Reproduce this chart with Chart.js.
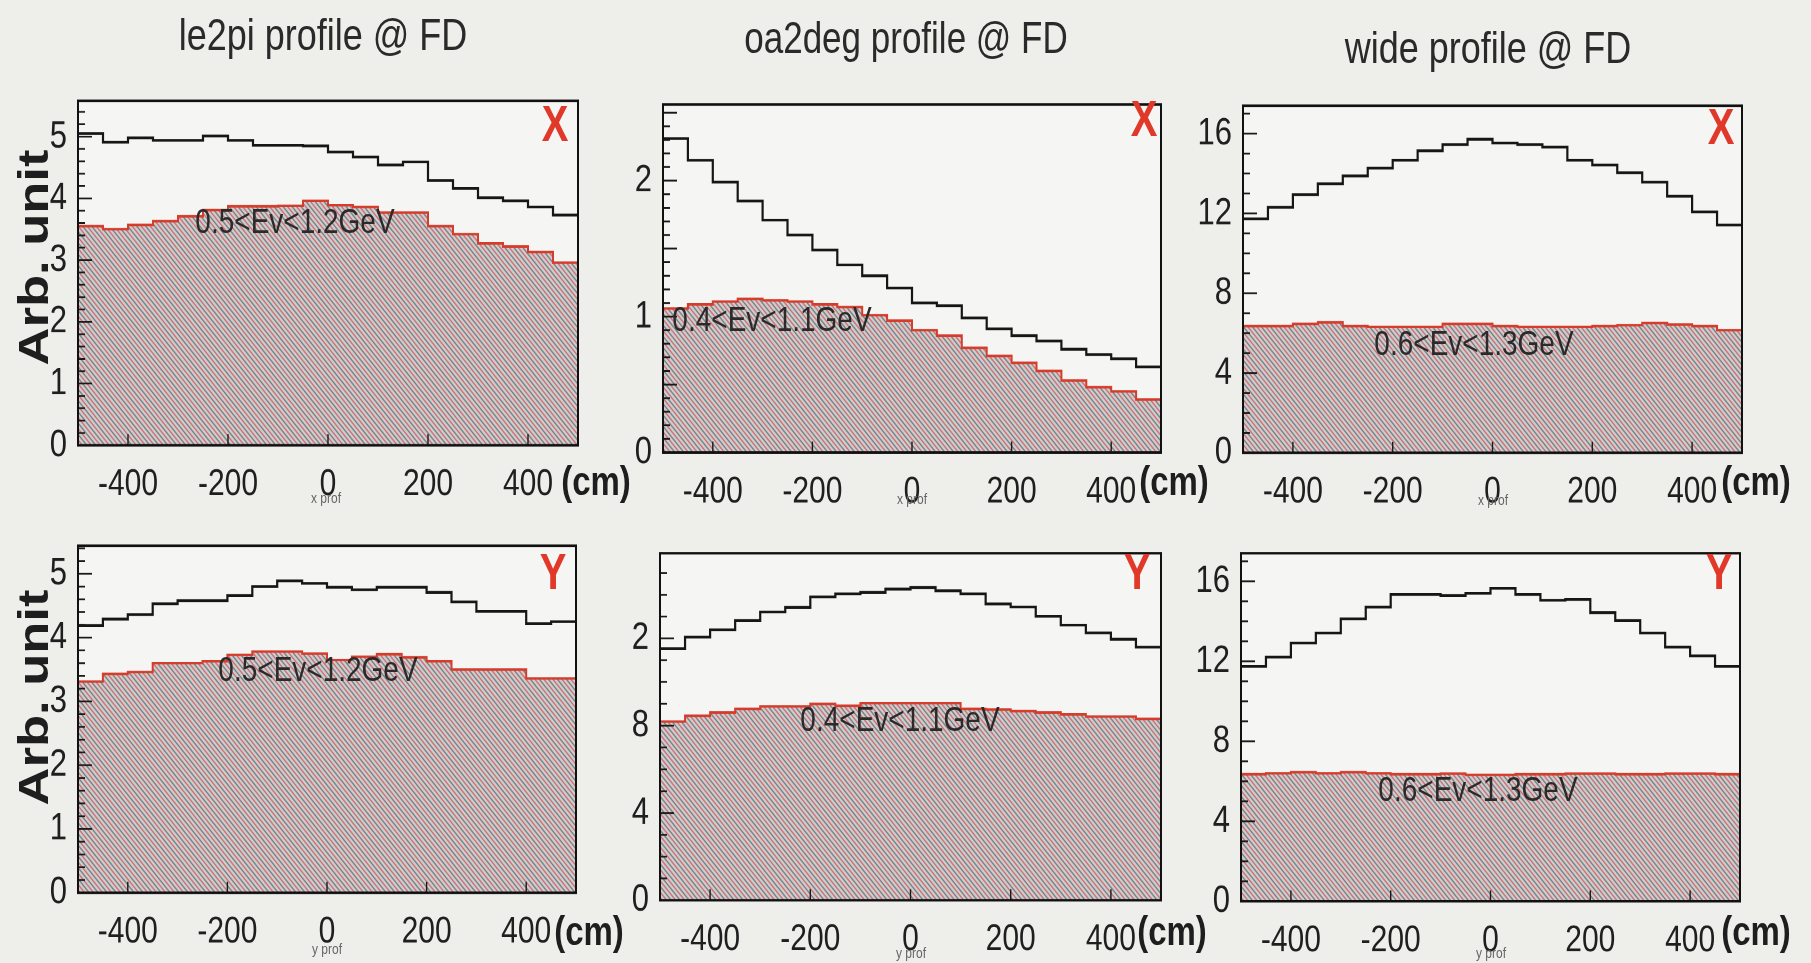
<!DOCTYPE html>
<html>
<head>
<meta charset="utf-8">
<script src="https://cdn.jsdelivr.net/npm/chart.js@4.4.1/dist/chart.umd.min.js"></script>
<style>
html, body { margin: 0; padding: 0; background: #eeeeeb; overflow: hidden; }
#page { position: absolute; left: 0; top: 0; width: 1811px; height: 770.4px; transform: scaleY(1.25); transform-origin: 0 0; }
.box { position: absolute; }
.txt { position: absolute; white-space: nowrap; font-family: "Liberation Sans", Arial, sans-serif; color: #2a2a2a; line-height: 1; }
</style>
</head>
<body>
<div id="page"></div>
<script>
// scanned figure is stretched vertically, so the whole page is too
const K = 1.25;
const FONT = "'Liberation Sans', Arial, Helvetica, sans-serif";

// bins: low edge of each 50 cm bin
const binLow = [-500, -450, -400, -350, -300, -250, -200, -150, -100, -50,
  0, 50, 100, 150, 200, 250, 300, 350, 400, 450];
const binHigh = 500;

const xTicks = [-400, -200, 0, 200, 400];
const xTickLabels = ["-400", "-200", "0", "200", "400"];

// top row: X profiles
const le2piX_all = [5.05, 4.91, 4.98, 4.94, 4.94, 5.01, 4.94, 4.86, 4.86, 4.85, 4.75, 4.67, 4.54, 4.59, 4.29, 4.16, 4.01, 3.96, 3.86, 3.73];
const le2piX_sel = [3.55, 3.50, 3.57, 3.63, 3.71, 3.81, 3.87, 3.87, 3.88, 3.96, 3.89, 3.86, 3.77, 3.77, 3.55, 3.42, 3.27, 3.22, 3.13, 2.96];
const oa2degX_all = [2.31, 2.15, 1.99, 1.85, 1.71, 1.60, 1.49, 1.38, 1.30, 1.21, 1.10, 1.08, 0.99, 0.91, 0.86, 0.82, 0.76, 0.72, 0.69, 0.63];
const oa2degX_sel = [1.06, 1.09, 1.11, 1.13, 1.12, 1.11, 1.09, 1.07, 1.01, 0.97, 0.90, 0.86, 0.77, 0.71, 0.66, 0.60, 0.53, 0.48, 0.45, 0.39];
const wideX_all = [11.73, 12.31, 12.94, 13.49, 13.88, 14.27, 14.67, 15.14, 15.45, 15.72, 15.53, 15.45, 15.33, 14.67, 14.43, 14.04, 13.57, 12.86, 12.08, 11.42];
const wideX_sel = [6.35, 6.35, 6.46, 6.54, 6.35, 6.31, 6.31, 6.31, 6.46, 6.46, 6.35, 6.31, 6.31, 6.31, 6.35, 6.40, 6.51, 6.43, 6.35, 6.15];

// bottom row: Y profiles
const le2piY_all = [4.19, 4.29, 4.36, 4.53, 4.58, 4.58, 4.66, 4.80, 4.89, 4.85, 4.79, 4.75, 4.79, 4.79, 4.71, 4.56, 4.41, 4.41, 4.22, 4.25];
const le2piY_sel = [3.31, 3.43, 3.46, 3.60, 3.60, 3.63, 3.73, 3.78, 3.78, 3.75, 3.65, 3.70, 3.74, 3.69, 3.63, 3.50, 3.50, 3.50, 3.36, 3.36];
const oa2degY_all = [1.153, 1.206, 1.239, 1.282, 1.321, 1.342, 1.390, 1.404, 1.411, 1.426, 1.433, 1.418, 1.404, 1.358, 1.344, 1.301, 1.261, 1.225, 1.196, 1.160];
const oa2degY_sel = [0.819, 0.845, 0.860, 0.877, 0.888, 0.888, 0.900, 0.891, 0.903, 0.903, 0.903, 0.903, 0.877, 0.874, 0.867, 0.860, 0.852, 0.842, 0.842, 0.831];
const wideY_all = [11.74, 12.21, 12.91, 13.41, 14.12, 14.71, 15.34, 15.34, 15.29, 15.40, 15.65, 15.34, 15.05, 15.09, 14.43, 14.04, 13.41, 12.71, 12.27, 11.74];
const wideY_sel = [6.35, 6.40, 6.45, 6.40, 6.45, 6.40, 6.35, 6.35, 6.38, 6.32, 6.32, 6.35, 6.35, 6.38, 6.38, 6.35, 6.35, 6.38, 6.38, 6.35];

// y tick values and the labels printed next to them
const yTicks_le2pi = [0, 1, 2, 3, 4, 5];
const yLabels_le2pi = ["0", "1", "2", "3", "4", "5"];
const yTicks_oa2degX = [0, 1, 2];
const yLabels_oa2degX = ["0", "1", "2"];
const yTicks_wide = [0, 4, 8, 12, 16];
const yLabels_wide = ["0", "4", "8", "12", "16"];
const yTicks_oa2degY = [0, 0.4, 0.8, 1.2];
const yLabels_oa2degY = ["0", "4", "8", "2"];

const PAD_L = 80, PAD_R = 12, PAD_T = 14, PAD_B = 70;
const page = document.getElementById('page');

// the x tick numbers are narrow in the scan; use a narrow face when there is one
function hasFont(name) {
  const c = document.createElement('canvas').getContext('2d');
  const t = 'mmmmmwwwwwiiiiil0123456789';
  c.font = '40px monospace';
  const a = c.measureText(t).width;
  c.font = '40px "' + name + '", monospace';
  return Math.abs(c.measureText(t).width - a) > 0.5;
}
const NARROW = hasFont('Liberation Sans Narrow');
const XFONT = NARROW ? { family: "'Liberation Sans Narrow', sans-serif", size: 35 } : { family: FONT, size: 30 };
const XPAD = NARROW ? 10.6 : 13.6;

function makeHatch() {
  const s = 9, r = 2;
  const c = document.createElement('canvas');
  c.width = c.height = s * r;
  const g = c.getContext('2d');
  g.scale(r, r);
  g.fillStyle = '#cad0cc';
  g.fillRect(0, 0, s, s);
  function stripe(off, color) {
    g.strokeStyle = color;
    g.lineWidth = 1.3;
    for (const d of [-s, 0, s]) {
      g.beginPath();
      g.moveTo(off + d - 1, -1);
      g.lineTo(off + d + s + 1, s + 1);
      g.stroke();
    }
  }
  stripe(0, '#847c89');
  stripe(s / 2, '#d46e78');
  const pat = g.createPattern(c, 'repeat');
  pat.setTransform(new DOMMatrix().scale(1 / r));
  return pat;
}

function pts(vals) {
  const out = binLow.map((x, i) => ({ x: x, y: vals[i] }));
  out.push({ x: binHigh, y: vals[vals.length - 1] });
  return out;
}

// plot background, frame and inside tick marks (ROOT style)
const framePlugin = {
  id: 'frame',
  beforeDatasetsDraw(chart) {
    const a = chart.chartArea, ctx = chart.ctx;
    ctx.save();
    ctx.fillStyle = '#f5f5f3';
    ctx.fillRect(a.left, a.top, a.right - a.left, a.bottom - a.top);
    ctx.restore();
  },
  afterDatasetsDraw(chart, args, opts) {
    const a = chart.chartArea, ctx = chart.ctx;
    const ys = chart.scales.y, xs = chart.scales.x;
    ctx.save();
    ctx.strokeStyle = '#1a1a1a';
    ctx.lineWidth = 1.4;
    ctx.beginPath();
    for (let v = 0; v <= ys.max + 1e-9; v += opts.yMinor) {
      const y = ys.getPixelForValue(v);
      const major = Math.abs(v / opts.yMajor - Math.round(v / opts.yMajor)) < 1e-6;
      ctx.moveTo(a.left, y);
      ctx.lineTo(a.left + (major ? 14 : 7), y);
    }
    for (const v of xTicks) {
      const x = xs.getPixelForValue(v);
      ctx.moveTo(x, a.bottom);
      ctx.lineTo(x, a.bottom - 11 / K);
    }
    ctx.stroke();
    ctx.lineWidth = 2;
    ctx.strokeStyle = '#111';
    ctx.strokeRect(a.left, a.top, a.right - a.left, a.bottom - a.top);
    ctx.restore();
  }
};

function makePanel(p) {
  const div = document.createElement('div');
  div.className = 'box';
  div.style.left = (p.L - PAD_L) + 'px';
  div.style.top = ((p.T - PAD_T) / K) + 'px';
  div.style.width = (p.R - p.L + PAD_L + PAD_R) + 'px';
  div.style.height = ((p.B - p.T + PAD_T + PAD_B) / K) + 'px';
  const cv = document.createElement('canvas');
  div.appendChild(cv);
  page.appendChild(div);

  new Chart(cv, {
    type: 'line',
    data: {
      datasets: [
        { data: pts(p.all), borderColor: '#161616', borderWidth: 2.2, stepped: 'before',
          pointRadius: 0, fill: false },
        { data: pts(p.sel), borderColor: '#d63c2c', borderWidth: 2, stepped: 'before',
          pointRadius: 0, fill: 'origin', backgroundColor: makeHatch() }
      ]
    },
    options: {
      responsive: true,
      maintainAspectRatio: false,
      animation: false,
      devicePixelRatio: 2,
      layout: { padding: { top: PAD_T / K, right: PAD_R, left: 0, bottom: 0 } },
      plugins: {
        legend: { display: false },
        tooltip: { enabled: false },
        frame: { yMajor: p.yMajor, yMinor: p.yMinor }
      },
      scales: {
        x: {
          type: 'linear', min: -500, max: 500,
          grid: { display: false, drawTicks: false }, border: { display: false },
          afterBuildTicks: s => { s.ticks = xTicks.map(v => ({ value: v })); },
          afterFit: s => { s.height = PAD_B / K; },
          ticks: {
            callback: (v, i) => xTickLabels[i],
            font: XFONT, color: '#1f1f1f',
            padding: XPAD, maxRotation: 0, autoSkip: false
          }
        },
        y: {
          min: 0, max: p.ymax,
          grid: { display: false, drawTicks: false }, border: { display: false },
          afterBuildTicks: s => { s.ticks = p.yTicks.map(v => ({ value: v })); },
          afterFit: s => { s.width = PAD_L; },
          ticks: {
            callback: (v, i) => p.yLabels[i],
            font: { family: FONT, size: 31 }, color: '#1f1f1f',
            padding: 11, autoSkip: false
          }
        }
      }
    },
    plugins: [framePlugin]
  });
}

// text helper: cx in px, cy = visual centre of capitals in page px
function addText(str, cx, cy, size, extra) {
  const d = document.createElement('div');
  d.className = 'txt';
  d.textContent = str;
  d.style.fontSize = size + 'px';
  d.style.left = cx + 'px';
  d.style.top = (cy / K - 0.49 * size) + 'px';
  d.style.transform = 'translateX(-50%)';
  if (extra) Object.assign(d.style, extra);
  page.appendChild(d);
  return d;
}

const panels = [
  { L: 78, R: 578, T: 78, B: 445, ymax: 5.58, yTicks: yTicks_le2pi, yLabels: yLabels_le2pi, yMajor: 1, yMinor: 0.2, all: le2piX_all, sel: le2piX_sel },
  { L: 663, R: 1161, T: 82, B: 453, ymax: 2.56, yTicks: yTicks_oa2degX, yLabels: yLabels_oa2degX, yMajor: 0.5, yMinor: 0.1, all: oa2degX_all, sel: oa2degX_sel },
  { L: 1243, R: 1742, T: 83, B: 453, ymax: 17.4, yTicks: yTicks_wide, yLabels: yLabels_wide, yMajor: 4, yMinor: 1, all: wideX_all, sel: wideX_sel },
  { L: 78, R: 576, T: 523, B: 893, ymax: 5.44, yTicks: yTicks_le2pi, yLabels: yLabels_le2pi, yMajor: 1, yMinor: 0.2, all: le2piY_all, sel: le2piY_sel },
  { L: 660, R: 1161, T: 530, B: 900, ymax: 1.59, yTicks: yTicks_oa2degY, yLabels: yLabels_oa2degY, yMajor: 0.4, yMinor: 0.1, all: oa2degY_all, sel: oa2degY_sel },
  { L: 1241, R: 1740, T: 530, B: 901, ymax: 17.4, yTicks: yTicks_wide, yLabels: yLabels_wide, yMajor: 4, yMinor: 1, all: wideY_all, sel: wideY_sel }
];
panels.forEach(makePanel);

// titles
addText("le2pi profile @ FD", 323, 35, 36);
addText("oa2deg profile @ FD", 906, 36, 35);
addText("wide profile @ FD", 1488, 47, 36);

// energy windows
addText("0.5<Ev<1.2GeV", 295, 221, 28);
addText("0.4<Ev<1.1GeV", 772, 320, 28);
addText("0.6<Ev<1.3GeV", 1474, 343, 28);
addText("0.5<Ev<1.2GeV", 318, 670, 28);
addText("0.4<Ev<1.1GeV", 900, 720, 28);
addText("0.6<Ev<1.3GeV", 1478, 790, 28);

// X / Y markers
const red = { color: '#e0392a', fontWeight: 'bold' };
addText("X", 555, 123, 40, red);
addText("X", 1144, 118, 40, red);
addText("X", 1721, 126, 40, red);
addText("Y", 553, 571, 40, red);
addText("Y", 1137, 571, 40, red);
addText("Y", 1719, 571, 40, red);

// axis units
const cmStyle = NARROW
  ? { fontWeight: 'bold', color: '#1e1e1e', fontFamily: "'Liberation Sans Narrow', sans-serif" }
  : { fontWeight: 'bold', color: '#1e1e1e' };
const cmSize = NARROW ? 40 : 33;
[[596, 480], [1174, 480], [1756, 480], [589, 930], [1172, 930], [1756, 930]].forEach(q => addText("(cm)", q[0], q[1], cmSize, cmStyle));

// tiny axis names under the zero label
const tiny = { color: '#666' };
[[326, 497], [912, 499], [1493, 500]].forEach(q => addText("x prof", q[0], q[1], 12, tiny));
[[327, 948], [911, 952], [1491, 952]].forEach(q => addText("y prof", q[0], q[1], 12, tiny));

// rotated y title
const bold = { fontWeight: 'bold', color: '#1e1e1e' };
[[34, 258], [34, 698]].forEach(q => {
  const d = addText("Arb. unit", q[0], q[1], 42, bold);
  d.style.top = (q[1] / K) + 'px';
  d.style.transform = 'translate(-50%, -50%) rotate(-90deg)';
});
</script>
</body>
</html>
